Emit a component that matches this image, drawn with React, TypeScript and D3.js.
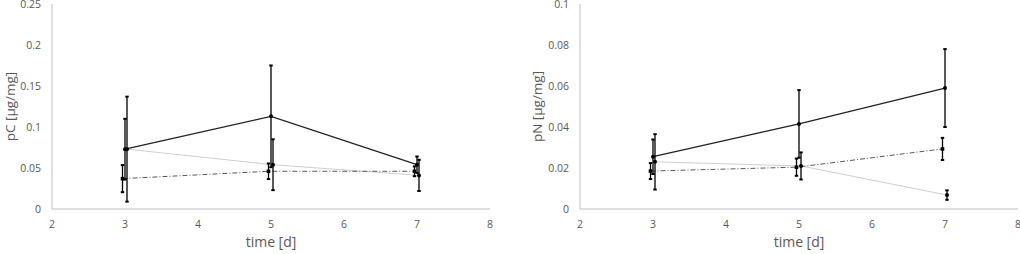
import React from "react";
import * as d3 from "d3";

const times = [3, 5, 7];
const xTicks = [2, 3, 4, 5, 6, 7, 8];

// pC panel
const pcSolid = [0.073, 0.113, 0.054];
const pcSolidErr = [0.037, 0.062, 0.01];
const pcGray = [0.073, 0.054, 0.041];
const pcGrayErr = [0.064, 0.031, 0.019];
const pcDash = [0.037, 0.046, 0.046];
const pcDashErr = [0.0165, 0.0095, 0.006];
const pcTicks = [0, 0.05, 0.1, 0.15, 0.2, 0.25];

// pN panel
const pnSolid = [0.0255, 0.0415, 0.059];
const pnSolidErr = [0.0084, 0.0165, 0.019];
const pnGray = [0.023, 0.021, 0.0068];
const pnGrayErr = [0.0135, 0.0066, 0.0023];
const pnDash = [0.0185, 0.0204, 0.0293];
const pnDashErr = [0.0039, 0.0042, 0.0054];
const pnTicks = [0, 0.02, 0.04, 0.06, 0.08, 0.1];

const AXIS = "#bfbfbf";
const TEXT = "#595959";
const FONT = "'Open Sans', 'Liberation Sans', sans-serif";

type Series = { mean: number[]; err: number[]; stroke: string; width: number; dash?: string; dx: number; marker: "circle" | "square" };

function Panel(props: {
  left: number; right: number; top: number; bottom: number;
  yMax: number; yTicks: number[]; yLabel: string; series: Series[]; titleX: number;
}) {
  const { left, right, top, bottom, yMax, yTicks, yLabel, series, titleX } = props;
  const x = d3.scaleLinear().domain([2, 8]).range([left, right]);
  const y = d3.scaleLinear().domain([0, yMax]).range([bottom, top]);
  const line = d3.line<[number, number]>().x((d) => d[0]).y((d) => d[1]);
  return (
    <g>
      <line x1={left} x2={left} y1={top} y2={bottom} stroke={AXIS} strokeWidth={1} />
      <line x1={left} x2={right} y1={bottom} y2={bottom} stroke={AXIS} strokeWidth={1} />
      {yTicks.map((t) => (
        <text key={t} x={left - 11} y={y(t)} dy="0.35em" textAnchor="end" fontSize={10.5} fill={TEXT} fontFamily={FONT}>
          {d3.format("~g")(t)}
        </text>
      ))}
      {xTicks.map((t) => (
        <text key={t} x={x(t)} y={bottom + 15} dy="0.35em" textAnchor="middle" fontSize={10.5} fill={TEXT} fontFamily={FONT}>
          {t}
        </text>
      ))}
      <text x={(left + right) / 2} y={bottom + 33} dy="0.35em" textAnchor="middle" fontSize={14} fill={TEXT} fontFamily={FONT}>
        time [d]
      </text>
      <text transform={`translate(${titleX},${(top + bottom) / 2}) rotate(-90)`} dy="0.35em" textAnchor="middle" fontSize={13.5} fill={TEXT} fontFamily={FONT}>
        {yLabel}
      </text>
      {series.map((s, si) => {
        const pts: [number, number][] = times.map((t, i) => [x(t) + s.dx, y(s.mean[i])]);
        return (
          <g key={si}>
            <path d={line(pts) || ""} fill="none" stroke={s.stroke} strokeWidth={s.width} strokeDasharray={s.dash} />
          </g>
        );
      })}
      {series.map((s, si) => (
        <g key={"e" + si}>
          {times.map((t, i) => {
            const cx = x(t) + s.dx;
            const y1 = y(s.mean[i] + s.err[i]);
            const y2 = y(Math.max(0, s.mean[i] - s.err[i]));
            return (
              <g key={i}>
                <line x1={cx} x2={cx} y1={y1} y2={y2} stroke="#000" strokeWidth={1.3} />
                <rect x={cx - 1.7} y={y1 - 1} width={3.4} height={2} fill="#000" />
                <rect x={cx - 1.7} y={y2 - 1} width={3.4} height={2} fill="#000" />
                {s.marker === "circle" ? (
                  <circle cx={cx} cy={y(s.mean[i])} r={2} fill="#000" />
                ) : (
                  <rect x={cx - 1.8} y={y(s.mean[i]) - 1.8} width={3.6} height={3.6} fill="#000" />
                )}
              </g>
            );
          })}
        </g>
      ))}
    </g>
  );
}

export default function App() {
  const leftSeries: Series[] = [
    { mean: pcGray, err: pcGrayErr, stroke: "#cfcfcf", width: 1, dx: 2, marker: "circle" },
    { mean: pcDash, err: pcDashErr, stroke: "#5a5a5a", width: 1, dash: "5,2,1,2", dx: -2.5, marker: "square" },
    { mean: pcSolid, err: pcSolidErr, stroke: "#222", width: 1.3, dx: 0, marker: "circle" },
  ];
  const rightSeries: Series[] = [
    { mean: pnGray, err: pnGrayErr, stroke: "#cfcfcf", width: 1, dx: 2, marker: "circle" },
    { mean: pnDash, err: pnDashErr, stroke: "#5a5a5a", width: 1, dash: "5,2,1,2", dx: -2.5, marker: "square" },
    { mean: pnSolid, err: pnSolidErr, stroke: "#222", width: 1.3, dx: 0, marker: "circle" },
  ];
  return (
    <svg width={1020} height={254} style={{ position: "absolute", left: 0, top: 0, background: "#fff" }}>
      <rect width={1020} height={254} fill="#fff" />
      <Panel left={52} right={490} top={4} bottom={209} yMax={0.25} yTicks={pcTicks} yLabel="pC [µg/mg]" series={leftSeries} titleX={10} />
      <Panel left={580} right={1018} top={4} bottom={209} yMax={0.1} yTicks={pnTicks} yLabel="pN [µg/mg]" series={rightSeries} titleX={537} />
    </svg>
  );
}
